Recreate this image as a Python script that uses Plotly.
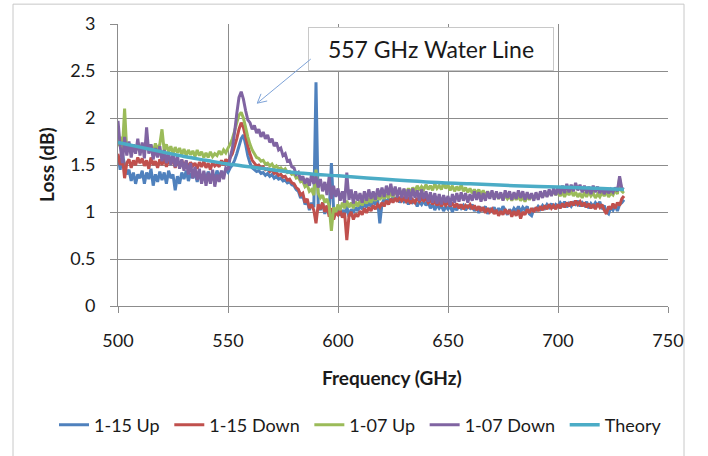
import plotly.graph_objects as go

# ---------------- data (1 GHz steps 500..730) ----------------
freq_start = 500
freq_step = 1

up_115 = [1.60, 1.45, 1.62, 1.50, 1.40, 1.45, 1.33, 1.42, 1.30, 1.40,
          1.36, 1.44, 1.30, 1.42, 1.35, 1.46, 1.28, 1.40, 1.32, 1.43,
          1.34, 1.42, 1.30, 1.44, 1.36, 1.40, 1.23, 1.38, 1.30, 1.42,
          1.35, 1.44, 1.33, 1.41, 1.36, 1.43, 1.32, 1.40, 1.35, 1.42,
          1.34, 1.43, 1.37, 1.41, 1.35, 1.44, 1.38, 1.42, 1.40, 1.45,
          1.42, 1.47, 1.50, 1.55, 1.62, 1.70, 1.78, 1.82, 1.72, 1.60,
          1.52, 1.47, 1.45, 1.43, 1.44, 1.41, 1.42, 1.39, 1.41, 1.38,
          1.40, 1.36, 1.38, 1.35, 1.36, 1.33, 1.34, 1.31, 1.32, 1.29,
          1.28, 1.24, 1.22, 1.15, 1.18, 1.08, 1.12, 1.02, 1.10, 1.05,
          2.38, 1.08, 1.02, 1.10, 0.98, 1.06, 1.00, 1.52, 1.03, 0.97,
          1.04, 0.96, 1.02, 0.98, 1.06, 0.95, 1.03, 0.99, 1.05, 1.01,
          1.07, 1.03, 1.09, 1.05, 1.10, 1.06, 1.12, 1.08, 1.13, 0.88,
          1.09, 1.14, 1.10, 1.15, 1.11, 1.16, 1.12, 1.17, 1.10, 1.15,
          1.11, 1.14, 1.08, 1.13, 1.10, 1.12, 1.06, 1.11, 1.08, 1.12,
          1.07, 1.11, 1.04, 1.09, 1.02, 1.08, 1.04, 1.07, 1.01, 1.06,
          1.03, 1.07, 1.00, 1.06, 1.02, 1.08, 1.04, 1.07, 1.02, 1.06,
          1.04, 1.08, 1.01, 1.05, 0.99, 1.04, 1.02, 1.06, 0.98, 1.04,
          1.01, 1.05, 0.99, 1.04, 1.00, 1.06, 1.02, 0.97, 1.03, 0.99,
          1.04, 1.01, 1.06, 1.00, 1.05, 1.02, 1.06, 0.98, 0.96, 1.03,
          1.02, 1.06, 1.03, 1.07, 1.04, 1.08, 1.05, 1.09, 1.04, 1.08,
          1.06, 1.10, 1.07, 1.11, 1.05, 1.09, 1.06, 1.10, 1.08, 1.12,
          1.06, 1.10, 1.07, 1.11, 1.04, 1.09, 1.06, 1.10, 1.07, 1.11,
          1.03, 1.07, 1.00, 0.98, 1.05, 1.02, 1.07, 1.01, 1.08, 1.10,
          1.13]

down_115 = [1.62, 1.50, 1.58, 1.36, 1.52, 1.56, 1.47, 1.55, 1.50, 1.58,
            1.52, 1.57, 1.49, 1.55, 1.46, 1.58, 1.50, 1.54, 1.47, 1.56,
            1.50, 1.58, 1.48, 1.55, 1.51, 1.57, 1.47, 1.54, 1.50, 1.55,
            1.48, 1.54, 1.47, 1.53, 1.49, 1.52, 1.46, 1.53, 1.48, 1.54,
            1.47, 1.52, 1.45, 1.53, 1.49, 1.51, 1.48, 1.55, 1.50, 1.56,
            1.53, 1.58, 1.62, 1.70, 1.78, 1.88, 1.95, 1.90, 1.80, 1.70,
            1.62, 1.55, 1.52, 1.49, 1.50, 1.47, 1.48, 1.45, 1.46, 1.43,
            1.45, 1.41, 1.42, 1.39, 1.40, 1.37, 1.38, 1.34, 1.35, 1.31,
            1.30, 1.26, 1.24, 1.18, 1.20, 1.10, 1.14, 1.04, 1.08, 1.02,
            0.88, 1.08, 1.03, 1.10, 1.00, 1.07, 0.95, 1.04, 0.92, 1.00,
            0.97, 1.02, 0.94, 0.99, 0.70, 0.96, 1.00, 0.92, 0.98, 0.95,
            1.01, 0.97, 1.04, 0.99, 1.05, 1.01, 1.07, 1.03, 1.08, 1.05,
            1.10, 1.06, 1.12, 1.08, 1.14, 1.10, 1.15, 1.11, 1.16, 1.12,
            1.15, 1.11, 1.14, 1.09, 1.13, 1.10, 1.15, 1.11, 1.14, 1.12,
            1.15, 1.10, 1.13, 1.08, 1.12, 1.07, 1.11, 1.06, 1.10, 1.07,
            1.11, 1.06, 1.10, 1.05, 1.09, 1.04, 1.08, 1.03, 1.07, 1.05,
            1.08, 1.03, 1.07, 1.02, 1.06, 1.01, 1.05, 0.99, 1.04, 1.00,
            1.03, 0.98, 1.02, 0.96, 1.01, 0.97, 1.03, 0.98, 1.02, 0.95,
            1.01, 0.96, 1.02, 0.93, 1.00, 0.97, 1.03, 0.99, 1.04, 1.00,
            1.05, 1.01, 1.06, 1.02, 1.07, 1.03, 1.08, 1.04, 1.07, 1.03,
            1.08, 1.04, 1.09, 1.05, 1.10, 1.06, 1.11, 1.07, 1.12, 1.08,
            1.11, 1.06, 1.10, 1.05, 1.09, 1.04, 1.08, 1.03, 1.09, 1.05,
            1.08, 1.02, 0.98, 1.06, 1.03, 1.09, 1.04, 1.10, 1.07, 1.14,
            1.17]

up_107 = [1.70, 1.80, 1.66, 2.10, 1.64, 1.72, 1.62, 1.70, 1.65, 1.74,
          1.66, 1.72, 1.64, 1.75, 1.67, 1.71, 1.63, 1.73, 1.66, 1.72,
          1.88, 1.65, 1.72, 1.64, 1.70, 1.62, 1.69, 1.63, 1.68, 1.61,
          1.67, 1.60, 1.66, 1.61, 1.65, 1.59, 1.66, 1.60, 1.64, 1.58,
          1.63, 1.58, 1.64, 1.59, 1.62, 1.60, 1.65, 1.61, 1.66, 1.63,
          1.68, 1.72, 1.78, 1.86, 1.95, 2.03, 2.06, 2.00, 1.90, 1.80,
          1.72, 1.66, 1.62, 1.58, 1.57, 1.54, 1.55, 1.51, 1.52, 1.49,
          1.51, 1.47, 1.49, 1.46, 1.47, 1.44, 1.46, 1.42, 1.43, 1.40,
          1.41, 1.36, 1.37, 1.32, 1.33, 1.27, 1.29, 1.22, 1.24, 1.18,
          1.45, 1.20, 1.15, 1.18, 1.10, 1.14, 1.06, 0.80, 1.05, 1.00,
          1.08, 1.02, 1.10, 1.04, 1.12, 1.05, 1.10, 1.04, 1.11, 1.06,
          1.12, 1.07, 1.13, 1.09, 1.15, 1.10, 1.16, 1.12, 1.17, 1.13,
          1.18, 1.14, 1.19, 1.15, 1.21, 1.16, 1.22, 1.18, 1.23, 1.19,
          1.24, 1.20, 1.25, 1.21, 1.26, 1.22, 1.28, 1.23, 1.27, 1.24,
          1.29, 1.24, 1.28, 1.23, 1.30, 1.25, 1.28, 1.24, 1.31, 1.25,
          1.29, 1.23, 1.28, 1.22, 1.27, 1.23, 1.29, 1.22, 1.26, 1.21,
          1.25, 1.20, 1.24, 1.19, 1.24, 1.18, 1.23, 1.17, 1.22, 1.16,
          1.21, 1.15, 1.20, 1.14, 1.19, 1.13, 1.18, 1.14, 1.17, 1.12,
          1.18, 1.13, 1.17, 1.12, 1.16, 1.11, 1.17, 1.13, 1.18, 1.14,
          1.19, 1.15, 1.20, 1.16, 1.21, 1.17, 1.22, 1.18, 1.23, 1.18,
          1.22, 1.17, 1.21, 1.16, 1.22, 1.18, 1.23, 1.17, 1.21, 1.16,
          1.20, 1.15, 1.21, 1.16, 1.22, 1.17, 1.20, 1.15, 1.19, 1.16,
          1.21, 1.17, 1.22, 1.16, 1.20, 1.18, 1.24, 1.19, 1.36, 1.22,
          1.20]

down_107 = [1.97, 1.70, 1.52, 1.80, 1.60, 1.75, 1.58, 1.72, 1.62, 1.78,
            1.60, 1.74, 1.57, 1.90, 1.62, 1.72, 1.56, 1.68, 1.58, 1.70,
            1.54, 1.66, 1.52, 1.63, 1.50, 1.62, 1.48, 1.60, 1.46, 1.56,
            1.44, 1.55, 1.40, 1.52, 1.36, 1.48, 1.34, 1.46, 1.30, 1.44,
            1.28, 1.42, 1.30, 1.45, 1.27, 1.40, 1.32, 1.44, 1.35, 1.47,
            1.45, 1.58, 1.68, 1.85, 2.05, 2.22, 2.28, 2.20, 2.08, 1.98,
            1.95, 1.88, 1.92, 1.84, 1.88, 1.80, 1.85, 1.78, 1.82, 1.74,
            1.78, 1.70, 1.74, 1.66, 1.68, 1.60, 1.62, 1.54, 1.55, 1.48,
            1.47, 1.40, 1.42, 1.34, 1.38, 1.30, 1.36, 1.28, 1.40, 1.30,
            1.38, 1.26, 1.35, 1.22, 1.32, 1.18, 1.38, 1.14, 1.28, 1.16,
            1.25, 1.12, 1.22, 1.10, 1.42, 1.13, 1.24, 1.09, 1.22, 1.12,
            1.20, 1.10, 1.22, 1.12, 1.24, 1.14, 1.22, 1.13, 1.25, 1.16,
            1.26, 1.16, 1.28, 1.18, 1.30, 1.17, 1.27, 1.16, 1.26, 1.15,
            1.25, 1.14, 1.24, 1.13, 1.25, 1.15, 1.23, 1.12, 1.24, 1.14,
            1.22, 1.11, 1.21, 1.10, 1.20, 1.09, 1.19, 1.08, 1.18, 1.10,
            1.17, 1.07, 1.19, 1.10, 1.20, 1.11, 1.21, 1.12, 1.20, 1.10,
            1.19, 1.12, 1.22, 1.13, 1.21, 1.11, 1.20, 1.12, 1.22, 1.14,
            1.23, 1.13, 1.22, 1.14, 1.21, 1.12, 1.23, 1.15, 1.22, 1.13,
            1.21, 1.14, 1.23, 1.15, 1.22, 1.13, 1.21, 1.14, 1.20, 1.12,
            1.21, 1.13, 1.22, 1.15, 1.23, 1.16, 1.24, 1.17, 1.25, 1.18,
            1.27, 1.19, 1.28, 1.20, 1.30, 1.21, 1.29, 1.22, 1.31, 1.23,
            1.29, 1.21, 1.28, 1.20, 1.27, 1.19, 1.28, 1.21, 1.27, 1.20,
            1.26, 1.19, 1.25, 1.20, 1.24, 1.21, 1.26, 1.22, 1.38, 1.25,
            1.24]

theory_freq = [500, 510, 520, 530, 540, 550, 560, 570, 580, 590, 600,
               620, 640, 660, 680, 700, 720, 730]
theory_loss = [1.74, 1.69, 1.64, 1.59, 1.55, 1.51, 1.48, 1.45, 1.42, 1.40,
               1.385, 1.35, 1.32, 1.30, 1.28, 1.265, 1.25, 1.24]

series_names = ["1-15 Up", "1-15 Down", "1-07 Up", "1-07 Down"]
series_colors = ["#4F81BD", "#C0504D", "#9BBB59", "#8064A2"]
theory_name = "Theory"
theory_color = "#4BACC6"

x_ticks = [500, 550, 600, 650, 700, 750]
y_ticks = [0, 0.5, 1, 1.5, 2, 2.5, 3]
y_tick_text = ["0", "0.5", "1", "1.5", "2", "2.5", "3"]

# ---------------- figure ----------------
FONT = "Lato, 'Open Sans', sans-serif"
PAD = "\u00a0"  # small extra spacing between legend entries
fig = go.Figure()

for name, vals, col in zip(series_names, [up_115, down_115, up_107, down_107], series_colors):
    fx = [freq_start + freq_step * i for i in range(len(vals))]
    fig.add_trace(go.Scatter(x=fx, y=vals, mode="lines", name=name + PAD,
                             line=dict(color=col, width=3, simplify=False)))

fig.add_trace(go.Scatter(x=theory_freq, y=theory_loss, mode="lines", name=theory_name,
                         line=dict(color=theory_color, width=3.5, shape="spline")))

grid_col = "#8c8c8c"
fig.update_xaxes(range=[500, 750], tickvals=x_ticks, showgrid=True, gridcolor=grid_col,
                 gridwidth=1, showline=True, linecolor=grid_col, linewidth=1,
                 ticks="outside", ticklen=6, tickcolor=grid_col, zeroline=False,
                 tickfont=dict(family=FONT, size=18, color="#1a1a1a"),
                 ticklabelstandoff=12)
fig.update_yaxes(range=[0, 3], tickvals=y_ticks, ticktext=y_tick_text, showgrid=True,
                 gridcolor=grid_col, gridwidth=1, showline=True, linecolor=grid_col,
                 linewidth=1, ticks="outside", ticklen=7, tickcolor=grid_col,
                 zeroline=False, tickfont=dict(family=FONT, size=18, color="#1a1a1a"),
                 ticklabelstandoff=11)

# axis titles
fig.add_annotation(text="<b>Frequency (GHz)</b>", xref="paper", yref="paper",
                   x=0.498, y=(308 - 380) / 284, xanchor="center", yanchor="middle",
                   showarrow=False, font=dict(family=FONT, size=19, color="#1a1a1a"))
fig.add_annotation(text="<b>Loss (dB)</b>", xref="paper", yref="paper",
                   x=(46 - 118) / 550, y=(308 - 166) / 284, xanchor="center",
                   yanchor="middle", textangle=-90, showarrow=False,
                   font=dict(family=FONT, size=19, color="#1a1a1a"))

# callout box
fig.add_annotation(text="557 GHz Water Line", xref="paper", yref="paper",
                   x=(431 - 118) / 550, y=(308 - 49) / 284, xanchor="center",
                   yanchor="middle", showarrow=False, width=240, height=38,
                   bgcolor="white", bordercolor="#c8c8c8", borderwidth=1, borderpad=2,
                   font=dict(family=FONT, size=23, color="#1a1a1a"))
# arrow line
fig.add_annotation(x=563.3, y=2.158, ax=588.3, ay=2.64, xref="x", yref="y",
                   axref="x", ayref="y", text="", showarrow=True, arrowhead=0,
                   arrowwidth=1, arrowcolor="#7EA3D8")
for ex, ey in [(567.8, 2.181), (565.0, 2.257)]:
    fig.add_shape(type="line", xref="x", yref="y", x0=563.3, y0=2.158, x1=ex, y1=ey,
                  line=dict(color="#7EA3D8", width=1))

# chart-area frame
fig.add_shape(type="rect", xref="paper", yref="paper",
              x0=(13 - 118) / 550, x1=(684 - 118) / 550,
              y0=(308 - 470) / 284, y1=(308 - 4) / 284,
              line=dict(color="#c8c8c8", width=1), layer="below")

fig.update_layout(
    width=708, height=456,
    margin=dict(l=118, r=40, t=24, b=148),
    paper_bgcolor="white", plot_bgcolor="white",
    showlegend=True,
    legend=dict(orientation="h", x=(54 - 118) / 550, xanchor="left",
                y=(308 - 428) / 284, yanchor="middle",
                font=dict(family=FONT, size=18, color="#1a1a1a"),
                itemwidth=30, tracegroupgap=0, bgcolor="rgba(0,0,0,0)"),
    font=dict(family=FONT),
)

fig.write_html("out.html")
